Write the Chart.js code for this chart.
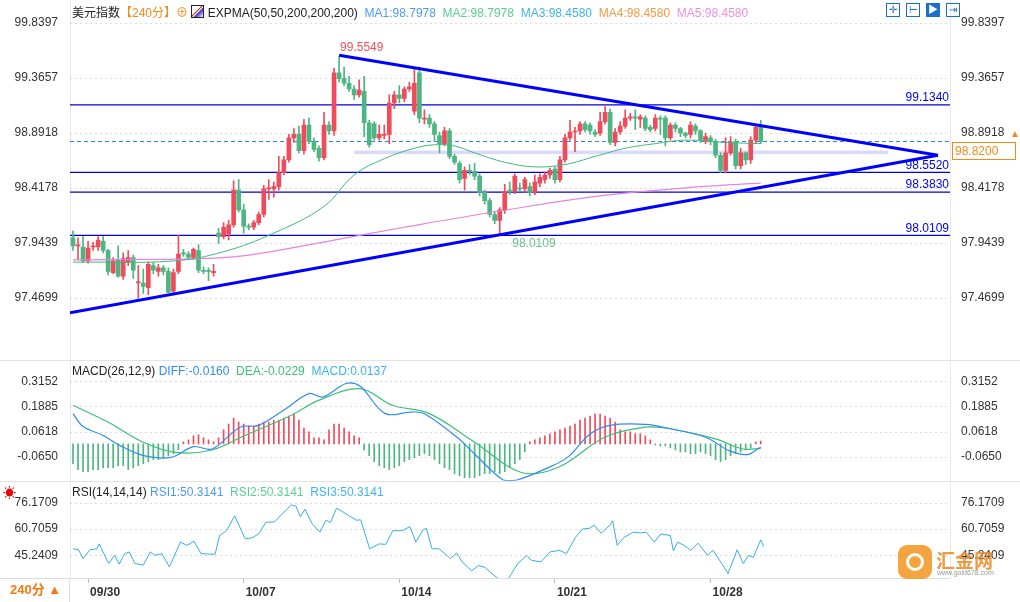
<!DOCTYPE html>
<html><head><meta charset="utf-8">
<script src="https://cdn.jsdelivr.net/npm/chart.js@4.4.1/dist/chart.umd.min.js"></script>
<style>
body{margin:0;width:1020px;height:602px;background:#fff;overflow:hidden;position:relative;font-family:"Liberation Sans","Noto Sans CJK SC",sans-serif;font-size:12px;color:#222}
canvas{position:absolute;left:0}
.t{position:absolute;white-space:nowrap;font-size:12px}
.sep{position:absolute;left:0;width:1020px;height:1px;background:#e2e2e2}
.ic{position:absolute;top:3px;width:14px;height:14px;border:1px solid #1a6fc9;box-sizing:border-box;color:#1a6fc9;font-size:10px;line-height:12px;text-align:center}
</style></head><body>
<div class="sep" style="top:360px"></div><div class="sep" style="top:481px"></div>
<div style="position:absolute;left:70px;top:0;width:1px;height:578px;background:#e8e8e8"></div>
<div style="position:absolute;left:950px;top:0;width:1px;height:578px;background:#e8e8e8"></div>
<canvas id="cp" width="1020" height="358" style="top:0"></canvas>
<canvas id="cm" width="1020" height="141" style="top:351px"></canvas>
<canvas id="cr" width="1020" height="129" style="top:473px"></canvas>
<div class="t" style="left:72px;top:3px">美元指数<span style="color:#f08a1c">【240分】</span><span style="color:#f08a1c">⊕</span>&nbsp;<span style="display:inline-block;width:11px;height:11px;border:1px solid #223;vertical-align:-1px;background:linear-gradient(135deg,#fff 40%,#c33 45%,#fff 55%,#33c 60%,#fff)"></span> EXPMA(50,50,200,200,200) <span style="color:#4a9af0">&nbsp;MA1:98.7978</span> <span style="color:#5acf94">&nbsp;MA2:98.7978</span> <span style="color:#3fb4ea">&nbsp;MA3:98.4580</span> <span style="color:#f59a45">&nbsp;MA4:98.4580</span> <span style="color:#ec8ee0">&nbsp;MA5:98.4580</span></div>
<div class="t" style="left:72px;top:364px">MACD(26,12,9) <span style="color:#2f8cf0">DIFF:-0.0160</span> <span style="color:#3dbf7a">&nbsp;DEA:-0.0229</span> <span style="color:#3ab4f0">&nbsp;MACD:0.0137</span></div>
<div class="t" style="left:72px;top:485px">RSI(14,14,14) <span style="color:#4a9af0">RSI1:50.3141</span> <span style="color:#5acf94">&nbsp;RSI2:50.3141</span> <span style="color:#3fb4ea">&nbsp;RSI3:50.3141</span></div>
<div class="ic" style="left:886px">✛</div><div class="ic" style="left:906px">⊢</div><div class="ic" style="left:926px;background:#1a6fc9;color:#fff">▶</div><div class="ic" style="left:946px">⇥</div>
<div class="t" style="left:3px;top:482px;color:#e00;font-size:13px">☀</div>
<div style="position:absolute;left:0;top:578px;width:70px;height:24px;border-top:1px solid #ddd;border-right:1px solid #ddd;box-sizing:border-box;color:#f07a10;font-weight:bold;font-size:13px;line-height:22px;padding-left:10px">240分 ▲</div>
<div style="position:absolute;left:952px;top:142px;width:64px;height:18px;border:1px solid #f08a1c;box-sizing:border-box;color:#f08a1c;font-size:12px;line-height:16px;padding-left:2px">98.8200</div>
<div class="t" style="left:1010px;top:128px;color:#f08a1c;font-size:10px">▲</div>
<div style="position:absolute;left:898px;top:545px;width:34px;height:34px;border-radius:9px;background:#f59a2a;opacity:.9"></div>
<div style="position:absolute;left:906px;top:553px;width:18px;height:18px;border-radius:50%;border:3px solid #fff;box-sizing:border-box"></div>
<div class="t" style="left:936px;top:546px;font-size:19px;color:#e88a20;font-weight:bold;opacity:.85">汇金网</div>
<div class="t" style="left:937px;top:569px;font-size:7px;color:#999">www.gold678.com</div>
<script>
// ---- price candles (index 0..137, 4h bars) ----
const openP=[97.99,97.92,97.91,97.79,97.91,97.91,97.96,97.88,97.69,97.80,97.66,97.78,97.82,97.60,97.60,97.56,97.75,97.70,97.73,97.70,97.53,97.70,97.86,97.85,97.82,97.88,97.71,97.71,97.69,98.03,98.00,98.02,98.10,98.40,98.23,98.09,98.08,98.12,98.19,98.41,98.41,98.43,98.55,98.66,98.85,98.88,98.74,98.96,98.82,98.76,98.68,98.96,98.91,99.41,99.36,99.32,99.27,99.22,99.25,98.98,98.97,98.85,98.87,98.88,99.15,99.22,99.19,99.27,99.08,99.41,99.01,99.02,98.97,98.87,98.80,98.91,98.69,98.63,98.50,98.57,98.56,98.52,98.38,98.31,98.19,98.14,98.23,98.40,98.39,98.42,98.41,98.43,98.38,98.46,98.49,98.53,98.58,98.49,98.66,98.85,98.90,98.91,98.97,98.96,98.90,98.89,98.99,99.07,98.81,98.90,98.95,99.02,99.03,99.01,99.02,98.94,98.93,99.02,99.02,98.85,98.96,98.93,98.89,98.88,98.95,98.91,98.82,98.85,98.82,98.70,98.57,98.72,98.82,98.61,98.72,98.66,98.83,98.94];
const closeP=[97.92,97.92,97.79,97.90,97.92,97.97,97.88,97.70,97.79,97.66,97.81,97.82,97.71,97.61,97.57,97.76,97.71,97.73,97.70,97.52,97.69,97.85,97.85,97.82,97.89,97.71,97.70,97.70,97.70,98.00,98.08,98.10,98.40,98.23,98.09,98.08,98.12,98.19,98.41,98.42,98.43,98.55,98.66,98.85,98.88,98.74,98.96,98.82,98.75,98.68,98.96,98.91,99.41,99.36,99.32,99.27,99.22,99.26,98.98,98.79,98.85,98.88,98.88,99.15,99.22,99.19,99.27,99.29,99.32,99.02,99.02,98.97,98.88,98.80,98.91,98.69,98.64,98.49,98.57,98.56,98.52,98.38,98.31,98.19,98.14,98.23,98.39,98.39,98.52,98.41,98.49,98.38,98.47,98.51,98.53,98.57,98.49,98.66,98.85,98.90,98.90,98.97,98.92,98.91,98.88,98.99,99.07,98.81,98.90,98.95,99.02,99.03,99.02,99.03,98.93,98.92,99.02,99.01,98.85,98.96,98.93,98.89,98.87,98.96,98.91,98.83,98.86,98.82,98.70,98.57,98.72,98.81,98.61,98.72,98.66,98.83,98.94,98.82];
const highP=[98.05,97.99,98.00,97.96,97.95,98.00,98.00,97.89,97.82,97.92,97.86,97.88,97.84,97.75,97.72,97.78,97.78,97.76,97.75,97.73,97.72,98.01,97.89,97.87,97.90,97.93,97.74,97.73,97.76,98.07,98.12,98.14,98.48,98.49,98.28,98.11,98.14,98.21,98.44,98.49,98.47,98.69,98.69,98.88,98.93,98.95,99.01,99.02,98.85,98.78,99.07,98.99,99.45,99.55,99.46,99.38,99.30,99.35,99.38,99.00,98.99,98.96,98.96,99.22,99.25,99.30,99.29,99.33,99.45,99.46,99.09,99.05,98.99,98.90,98.94,98.93,98.71,98.65,98.60,98.62,98.63,98.54,98.40,98.33,98.22,98.25,98.45,98.47,98.54,98.46,98.51,98.46,98.53,98.54,98.55,98.59,98.60,98.69,98.88,99.00,98.94,98.99,98.99,98.98,98.92,99.07,99.12,99.10,98.93,98.99,99.09,99.06,99.09,99.05,99.04,98.96,99.05,99.04,99.04,98.98,98.98,98.94,98.90,98.99,98.97,98.92,98.89,98.87,98.84,98.72,98.85,98.86,98.84,98.76,98.73,98.86,98.96,99.00];
const lowP=[97.88,97.80,97.78,97.77,97.88,97.88,97.86,97.67,97.68,97.65,97.63,97.75,97.64,97.47,97.51,97.50,97.68,97.66,97.67,97.52,97.50,97.68,97.83,97.80,97.80,97.69,97.68,97.62,97.66,97.94,97.98,97.97,98.08,98.21,98.03,98.06,98.06,98.10,98.17,98.32,98.34,98.40,98.53,98.64,98.81,98.72,98.71,98.80,98.73,98.65,98.66,98.88,98.87,99.33,99.30,99.25,99.18,99.20,98.86,98.77,98.83,98.83,98.84,98.80,99.10,99.15,99.16,99.25,99.05,98.98,98.97,98.94,98.82,98.72,98.78,98.67,98.62,98.46,98.40,98.53,98.49,98.35,98.28,98.17,98.11,98.01,98.20,98.36,98.37,98.39,98.38,98.35,98.36,98.43,98.46,98.50,98.46,98.47,98.64,98.83,98.73,98.88,98.90,98.88,98.86,98.87,98.97,98.79,98.78,98.88,98.93,99.00,98.92,98.94,98.91,98.90,98.91,98.88,98.78,98.83,98.90,98.86,98.85,98.85,98.88,98.81,98.80,98.79,98.68,98.55,98.55,98.70,98.58,98.58,98.62,98.63,98.80,98.80];
// EXPMA lines (knots: index, value)
const ema50X=[0,20,30,40,50,56,62,68,72,76,80,86,92,98,104,110,116,122,130,137];
const ema50Y=[97.78,97.79,97.87,98.03,98.26,98.53,98.67,98.76,98.79,98.78,98.72,98.64,98.60,98.62,98.69,98.76,98.80,98.83,98.81,98.80];
const ema200X=[0,25,35,52,66,85,105,125,137];
const ema200Y=[97.80,97.81,97.84,97.97,98.08,98.22,98.35,98.43,98.46];
// key levels
const hLevels=[99.1340,98.5520,98.3830,98.0109];
const lastPrice=98.82;
const bandLow=98.71, bandHigh=98.74, bandFrom=56, bandTo=162.4;
const triUpper=[[53,99.56],[172.3,98.70]];
const triLower=[[-0.6,97.344],[172.3,98.70]];
const priceTicks=[99.8397,99.3657,98.8918,98.4178,97.9439,97.4699];
// MACD
const diffX=[0,2,6,9.4,14,19.5,24,27.7,33.3,37,42.4,47,49.8,54.4,57.2,62.2,67.3,70,76.5,80,85.7,88.4,94,98.5,103,107,114,119,126,130.7,134.4,137];
const diffY=[0.152,0.087,0.042,-0.009,-0.059,-0.068,-0.014,-0.026,0.084,0.093,0.177,0.253,0.236,0.304,0.290,0.152,0.160,0.152,0.033,-0.051,-0.182,-0.182,-0.127,-0.068,0.050,0.093,0.098,0.076,0.033,-0.034,-0.054,-0.016];
const deaX=[0,7,14,20.4,27.7,34.2,43.4,48.9,57.2,63.6,71,80,89.3,96.7,105.9,114,119,128,133.5,137];
const deaY=[0.194,0.109,0.008,-0.043,-0.031,0.042,0.143,0.219,0.278,0.194,0.152,0.008,-0.144,-0.118,0.033,0.084,0.076,0.025,-0.026,-0.023];
const macdHist=[-0.10,-0.13,-0.14,-0.14,-0.13,-0.13,-0.12,-0.12,-0.12,-0.11,-0.11,-0.13,-0.12,-0.11,-0.10,-0.09,-0.08,-0.08,-0.07,-0.06,-0.05,-0.03,
0.01,0.02,0.04,0.045,0.03,0.02,0.01,
0.03,0.07,0.10,0.13,0.11,0.10,0.09,0.09,
0.10,0.11,0.11,0.12,0.12,0.13,0.14,0.15,0.12,0.08,0.06,
0.03,0.03,0.02,0.07,0.10,0.10,0.08,0.06,0.04,0.03,
-0.03,-0.06,-0.09,-0.11,-0.12,-0.13,-0.12,-0.11,-0.09,-0.08,-0.07,-0.06,-0.05,-0.06,-0.08,-0.10,-0.12,-0.13,-0.15,-0.16,-0.17,-0.17,-0.17,-0.16,-0.15,-0.15,-0.14,-0.15,-0.14,-0.12,-0.10,-0.08,-0.04,
0.01,0.02,0.03,0.04,0.05,0.06,0.07,0.08,0.09,0.10,0.12,0.13,0.14,0.15,0.15,0.14,0.13,0.11,0.07,0.06,0.06,0.05,0.05,0.04,0.02,
-0.005,-0.01,-0.01,-0.02,-0.03,-0.04,-0.04,-0.05,-0.05,-0.04,-0.05,-0.06,-0.08,-0.09,-0.08,-0.06,-0.05,-0.04,-0.03,-0.02,
0.01,0.014];
const macdTicks=[0.3152,0.1885,0.0618,-0.0650];
// RSI
const rsiX=[0,1.1,2,3.4,4.8,5.2,7.1,8.3,9.2,10.3,11.2,12.3,14,15.4,16.3,17.7,19.2,21.4,22.7,24.1,25.5,28.3,29.2,30.6,32.2,34.3,35.6,37,38.4,40.2,41.6,43.5,44.4,45.3,46.2,47.6,49.2,50.4,51.3,52.5,54,56.4,57.3,59.1,61,62.3,63.7,65.6,67.1,68.3,69.7,70.4,71.5,72.9,75.2,76.4,77.5,79.4,80.8,82.1,83.5,84.4,85.4,86.3,87.2,88.6,90.4,91.3,93.2,95,96.9,98.3,100.1,101.5,102.9,103.8,105.2,107,107.5,108.4,109.8,111.6,113,114.2,115.8,117.1,119,119.6,120.4,121.7,123.1,124.5,126.4,127.5,130.5,132.3,133.5,134.6,135.5,137,137.6];
const rsiY=[49.1,48.5,43.3,48.5,49.1,52.0,40.4,45.2,40.0,46.2,47.2,40.4,39.4,47.2,45.2,46.2,38.4,53.0,51.1,53.6,46.2,45.8,56.9,59.8,68.6,55.0,55.5,57.9,64.7,65.1,69.6,75.0,74.4,68.0,72.5,64.1,58.9,66.0,64.7,73.1,70.5,66.0,66.2,49.1,52.0,51.7,59.8,59.8,62.2,53.0,60.2,61.2,49.1,49.1,43.3,46.6,41.4,36.1,39.2,38.0,34.2,32.2,29.7,29.7,33.6,40.4,45.2,42.3,41.3,47.2,48.2,46.2,55.9,60.8,61.2,63.1,58.3,63.1,65.7,51.1,55.9,58.9,58.5,58.9,53.0,57.9,56.9,47.8,53.0,51.1,48.2,52.4,45.2,48.2,34.5,48.5,40.4,45.2,43.9,54.4,50.3];
const rsiTicks=[76.1709,60.7059,45.2409];
const dateIdx=[3,34,65,96,127];
const dateLabels=['09/30','10/07','10/14','10/21','10/28'];

const UP='#ef4b5b', DN='#4cb581';
const FONT={family:'"Liberation Sans","Noto Sans CJK SC",sans-serif',size:12};
const XMIN=-0.6, XMAX=174.7;
const pts=(xs,ys)=>xs.map((x,i)=>({x:x,y:ys[i]}));

function yAxes(min,max,ticks){
  const common={type:'linear',min:min,max:max,
    afterBuildTicks:s=>{s.ticks=ticks.map(v=>({value:v}));},
    ticks:{color:'#333',font:FONT,callback:(v)=>{const i=ticks.indexOf(v);return i>=0?ticks[i].toFixed(4):'';},padding:4},
    grid:{display:false},border:{display:false}};
  return {
    yl:Object.assign({},common,{position:'left',afterFit:s=>{s.width=70;}}),
    yr:Object.assign({},common,{position:'right',afterFit:s=>{s.width=70;},ticks:Object.assign({},common.ticks,{padding:3})})
  };
}
function xAxis(show){
  return {type:'linear',min:XMIN,max:XMAX,display:show,offset:false,
    afterBuildTicks:s=>{s.ticks=dateIdx.map(v=>({value:v}));},
    afterFit:s=>{if(show)s.height=24;},
    grid:{drawOnChartArea:false,offset:false,color:'#bbb',tickLength:5},
    border:{display:true,color:'#ddd'},
    ticks:{color:'#333',font:Object.assign({},FONT,{weight:'bold'}),align:'start',labelOffset:2,padding:2,maxRotation:0,autoSkip:false,
      callback:v=>{const i=dateIdx.indexOf(v);return i>=0?dateLabels[i]:'';}}};
}
const dashGrid={id:'dashGrid',beforeDatasetsDraw(c){
  const y=c.scales.yl,a=c.chartArea,ctx=c.ctx;ctx.save();ctx.strokeStyle='#dcdcdc';ctx.setLineDash([2,3]);ctx.lineWidth=1;
  y.ticks.forEach(t=>{const p=Math.round(y.getPixelForValue(t.value))+0.5;ctx.beginPath();ctx.moveTo(a.left,p);ctx.lineTo(a.right,p);ctx.stroke();});
  ctx.restore();}};

// ---------- PRICE ----------
const idx=closeP.map((_,i)=>i);
const candleColor=closeP.map((c,i)=>c>=openP[i]?UP:DN);
const pa=yAxes(97.051,99.940,priceTicks);
const overlay={id:'overlay',
 beforeDatasetsDraw(c){
  const x=c.scales.x,y=c.scales.yl,a=c.chartArea,ctx=c.ctx;ctx.save();
  ctx.fillStyle='rgba(170,170,245,0.45)';
  const x1=x.getPixelForValue(bandFrom),x2=x.getPixelForValue(bandTo),y1=y.getPixelForValue(bandHigh),y2=y.getPixelForValue(bandLow);
  ctx.fillRect(x1,y1,x2-x1,y2-y1);
  ctx.strokeStyle='#0000dd';ctx.lineWidth=1.3;
  hLevels.forEach(v=>{const p=y.getPixelForValue(v);ctx.beginPath();ctx.moveTo(a.left,p);ctx.lineTo(a.right,p);ctx.stroke();});
  ctx.strokeStyle='#2a86e6';ctx.setLineDash([4,3]);ctx.lineWidth=1;
  const lp=Math.round(y.getPixelForValue(lastPrice))+0.5;ctx.beginPath();ctx.moveTo(a.left,lp);ctx.lineTo(a.right,lp);ctx.stroke();
  ctx.restore();},
 afterDatasetsDraw(c){
  const x=c.scales.x,y=c.scales.yl,a=c.chartArea,ctx=c.ctx;ctx.save();
  ctx.font='12px "Liberation Sans",sans-serif';ctx.textAlign='right';ctx.textBaseline='bottom';ctx.fillStyle='#0000ee';
  hLevels.forEach(v=>{ctx.fillText(v.toFixed(4),a.right-1,y.getPixelForValue(v)-1);});
  ctx.textAlign='left';ctx.fillStyle='#f0505a';ctx.fillText('99.5549',x.getPixelForValue(53)+1,y.getPixelForValue(99.56)-2);
  ctx.fillStyle='#6cc08a';ctx.textBaseline='top';ctx.fillText('98.0109',x.getPixelForValue(87.5),y.getPixelForValue(98.0109)+2);
  ctx.restore();}};
new Chart(document.getElementById('cp'),{
 data:{datasets:[
  {type:'bar',data:idx.map(i=>({x:i,y:[lowP[i],highP[i]]})),backgroundColor:candleColor,barThickness:1,grouped:false,yAxisID:'yl',order:3},
  {type:'bar',data:idx.map(i=>({x:i,y:[openP[i],closeP[i]]})),backgroundColor:candleColor,barThickness:4,minBarLength:1,grouped:false,yAxisID:'yl',order:2},
  {type:'line',data:pts(ema50X,ema50Y),borderColor:'#3dbb7c',borderWidth:1,pointRadius:0,tension:0.4,yAxisID:'yl',order:1},
  {type:'line',data:pts(ema200X,ema200Y),borderColor:'#e684dc',borderWidth:1.2,pointRadius:0,tension:0.4,yAxisID:'yl',order:1},
  {type:'line',data:triUpper.map(p=>({x:p[0],y:p[1]})),borderColor:'#0000ff',borderWidth:3,pointRadius:0,yAxisID:'yl',order:0},
  {type:'line',data:triLower.map(p=>({x:p[0],y:p[1]})),borderColor:'#0000ff',borderWidth:3,pointRadius:0,yAxisID:'yl',order:0}
 ]},
 options:{responsive:false,animation:false,layout:{padding:{top:10,bottom:3}},
  plugins:{legend:{display:false},tooltip:{enabled:false}},
  scales:{x:xAxis(false),yl:pa.yl,yr:pa.yr}},
 plugins:[dashGrid,overlay]});

// ---------- MACD ----------
const ma=yAxes(-0.186,0.411,macdTicks);
new Chart(document.getElementById('cm'),{
 data:{datasets:[
  {type:'bar',data:macdHist.map((v,i)=>({x:i,y:v})),backgroundColor:macdHist.map(v=>v>=0?UP:DN),barThickness:1,yAxisID:'yl',order:2},
  {type:'line',data:pts(diffX,diffY),borderColor:'#2f8cf0',borderWidth:1.2,pointRadius:0,tension:0.35,yAxisID:'yl',order:1},
  {type:'line',data:pts(deaX,deaY),borderColor:'#3dbf7a',borderWidth:1.2,pointRadius:0,tension:0.35,yAxisID:'yl',order:1}
 ]},
 options:{responsive:false,animation:false,layout:{padding:{top:0,bottom:0}},
  plugins:{legend:{display:false},tooltip:{enabled:false}},
  scales:{x:xAxis(false),yl:ma.yl,yr:ma.yr}},
 plugins:[dashGrid]});

// ---------- RSI ----------
const ra=yAxes(31.8,87.3,rsiTicks);
new Chart(document.getElementById('cr'),{
 data:{datasets:[
  {type:'line',data:pts(rsiX,rsiY),borderColor:'#35aee8',borderWidth:1,pointRadius:0,tension:0,yAxisID:'yl'}
 ]},
 options:{responsive:false,animation:false,layout:{padding:{top:7,bottom:0}},
  plugins:{legend:{display:false},tooltip:{enabled:false}},
  scales:{x:xAxis(true),yl:ra.yl,yr:ra.yr}},
 plugins:[dashGrid]});
</script></body></html>
